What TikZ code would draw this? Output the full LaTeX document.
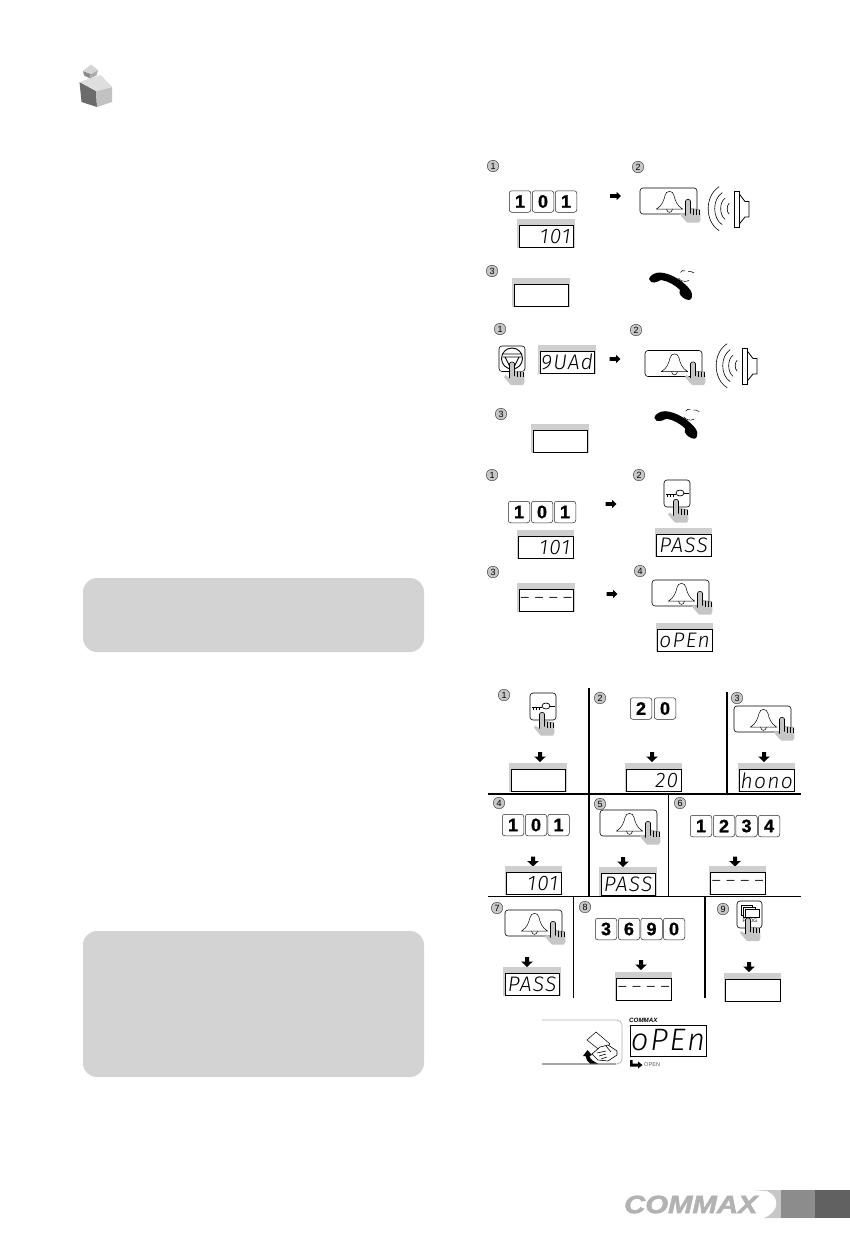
\documentclass[tikz,border=0pt]{standalone}
\usepackage{fontspec}
\setmainfont{Liberation Sans}
\newfontfamily\segfont{Fira Sans Light}
\definecolor{band}{HTML}{CFCFCF}
\definecolor{handgray}{HTML}{C6C6C6}
\definecolor{boxgray}{HTML}{D3D3D3}
\tikzset{
  keycap/.style={draw=black!85,line width=.5pt,rounded corners=2.5pt,minimum width=21.5pt,minimum height=21.5pt,inner sep=0pt,font=\bfseries\fontsize{18}{18}\selectfont\addfontfeature{FakeBold=1}},
  dispbox/.style={draw=black,line width=.8pt,fill=white,minimum width=54.5pt,minimum height=22pt,inner sep=0pt},
  segtext/.style={inner sep=0pt,font=\segfont\itshape\fontsize{21}{21}\selectfont\addfontfeature{LetterSpace=6}},
  numc/.style={circle,draw=black!80,line width=.4pt,fill=black!22,minimum size=11.5pt,inner sep=0pt,font=\fontsize{9}{9}\selectfont},
  iconline/.style={draw=black,line width=.5pt},
  gridthick/.style={draw=black,line width=1.5pt},
  gridthin/.style={draw=black,line width=.9pt},
}
\newcommand\keycap[4]{\node[keycap] (#1) at (#2,#3) {#4};}
\newcommand\fourdash{{\segfont\fontsize{18}{18}\selectfont – – – –}}
\newcommand\dispbg[3]{\fill[band] (#2-1.5,#3-6) rectangle (#2+56,#3+23);
  \node[dispbox,anchor=north west] (#1) at (#2,#3) {};}
\newcommand\dispR[4]{\dispbg{#1}{#2}{#3}\node[segtext,anchor=east] (#1t) at ([xshift=-3pt]#1.east) {#4};}
\newcommand\dispC[4]{\dispbg{#1}{#2}{#3}\node[segtext] (#1t) at (#1.center) {#4};}
\newcommand\rtarrow[2]{\fill[black,shift={(#1,#2)}] (-5.5,-1.8)--(1,-1.8)--(1,-4.2)--(5.5,0)--(1,4.2)--(1,1.8)--(-5.5,1.8)--cycle;}
\newcommand\dnarrow[2]{\fill[black,shift={(#1,#2)}] (-2,-5)--(2,-5)--(2,-.5)--(5.8,-.5)--(0,5)--(-5.8,-.5)--(-2,-.5)--cycle;}
\newcommand\num[4]{\node[numc] (#1) at (#2,#3) {#4};}
\newcommand\handat[2]{\begin{scope}[shift={(#1,#2)}]
  \fill[handgray] (-2.5,2)--(2.5,2)--(2.5,9)--(12,9.5)--(12.5,20)--(11,23)--(-1,23)--(-3,21)--(-8,15)--(-6.5,13)--(-2.5,16)--cycle;
  \draw[iconline,line width=.6pt,fill=handgray] (-2.5,16)--(-2.5,1.8) .. controls (-2.5,-.7) and (2.5,-.7) .. (2.5,1.8)--(2.5,14);
  \draw[iconline,line width=.6pt] (5.5,9.2)--(5.5,15) (8.3,9.6)--(8.3,15) (11,10)--(11,15);
  \draw[black!60,line width=.3pt] (2.5,9)--(11,10);
\end{scope}}
\newcommand\bellbtn[2]{\begin{scope}[shift={(#1,#2)}]
  \draw[iconline,rounded corners=3pt,line width=.6pt] (0,0) rectangle (57,26);
  \draw[iconline,line width=.5pt] (16.5,21) .. controls (22,18) and (24,12) .. (25,7.5) .. controls (26,2) and (33,2) .. (34,7.5) .. controls (35,12) and (37,18) .. (42.5,21) -- cycle;
  \draw[iconline,line width=.5pt] (26.5,21) .. controls (27,25.5) and (32,25.5) .. (32.5,21);
\end{scope}\handat{#1+48}{#2+11.5}}
\newcommand\keybtn[2]{\begin{scope}[shift={(#1,#2)}]
  \draw[iconline,rounded corners=3pt,line width=.6pt] (0,0) rectangle (26,27);
  \draw[iconline,line width=.7pt] (16,13) ellipse (4 and 3);
  \draw[iconline,line width=.9pt] (1.5,14)--(12,14) (3,14)--(3,16.5) (6,14)--(6,16.5) (9,14)--(9,16.5);
  \draw[iconline] (20,13)--(24.5,13);
\end{scope}\handat{#1+12}{#2+19.5}}
\newcommand\spk[2]{\begin{scope}[shift={(#1,#2)}]
  \draw[iconline,line width=.8pt] (0,0) rectangle (5.3,36);
  \draw[iconline,line width=.8pt] (5.3,3)--(11,10.5)--(15,10.5)--(15,26)--(11,26)--(5.3,33);
  \draw[iconline,line width=.6pt] (-14.8,-4.3) .. controls (-29.5,4.7) and (-29.5,30.7) .. (-14.8,39.7);
  \draw[iconline,line width=.6pt] (-11.8,1.7) .. controls (-21.8,8.1) and (-21.8,27.3) .. (-11.8,33.7);
  \draw[iconline,line width=.6pt] (-8.9,7.1) .. controls (-14.8,11.3) and (-14.8,24.1) .. (-8.9,28.3);
  \draw[iconline,line width=.6pt] (-4.8,12.2) .. controls (-7.5,14.4) and (-7.5,21) .. (-4.8,23.2);
\end{scope}}
\newcommand\phone[2]{\begin{scope}[shift={(#1,#2)}]
  \fill[black] (0,6) .. controls (1,2) and (6,-.5) .. (11,-.5) .. controls (22,0) and (36,9) .. (42,18) .. controls (44,22) and (43,27) .. (40,27) .. controls (36,27) and (31,23) .. (30.5,20) .. controls (30.5,18.5) and (31,17.5) .. (31,17) .. controls (26,12) and (19,8) .. (12,7) .. controls (8,9) and (2,12) .. (0,6) -- cycle;
  \draw[black,line width=.5pt] (29.5,5) .. controls (31.5,8) and (35,9.5) .. (40,7.5);
  \draw[black,line width=.5pt] (31.5,-.5) .. controls (32.5,-2.5) and (34,-3) .. (36,-2);
  \draw[black,line width=.5pt] (39,-1.5) .. controls (41,-2) and (43,-1.5) .. (45,0);
\end{scope}}
\begin{document}
\begin{tikzpicture}[x=1pt,y=-1pt]
\useasboundingbox (0,0) rectangle (850,1247);
\fill[white] (0,0) rectangle (850,1247);
% cube
\fill[black!58] (79.5,82)--(96,91)--(97,107)--(81.5,102)--cycle;
\fill[black!24] (96,91)--(112,87)--(112,102)--(97,107)--cycle;
\fill[black!13] (79.5,82)--(101,75)--(112,87)--(96,91)--cycle;
\fill[black!45] (83,71)--(91,74)--(90,78.5)--(84,75.5)--cycle;
\fill[black!32] (91,74)--(98,70)--(96.5,75.5)--(90,78.5)--cycle;
\fill[black!17] (83,71)--(91,64.5)--(98,70)--(91,74)--cycle;
% grey note panels
\fill[boxgray,rounded corners=14pt] (83,578) rectangle (424,652);
\fill[boxgray,rounded corners=14pt] (83,931) rectangle (424,1077);
% block A
\num{a1}{493}{166}{1}\num{a2}{638}{167}{2}
\keycap{ak1}{520}{201.5}{1}\keycap{ak2}{543}{201.5}{0}\keycap{ak3}{566}{201.5}{1}
\dispR{ad1}{518.5}{225}{101}
\rtarrow{615.5}{196}
\bellbtn{640}{188}
\spk{734}{191}
\num{a3}{492}{271}{3}\dispC{ad3}{513.5}{284}{}
\phone{649}{273}
% block B
\num{b1}{500}{329}{1}\num{b2}{636}{330}{2}
\begin{scope}[shift={(499,346)}]
 \draw[iconline,rounded corners=3pt,line width=.6pt] (0,0) rectangle (26,25.5);
 \draw[iconline,line width=.9pt] (13,12.5) circle (10.5);
 \draw[iconline,line width=.9pt] (3,8)--(23,8) (3.5,11)--(22.5,11) (6,11)--(12,23) (20,11)--(14,23);
\end{scope}
\handat{512}{362}
\dispC{bd1}{539.5}{351}{9UAd}
\rtarrow{615}{359}
\bellbtn{645}{350.5}
\spk{742}{348}
\num{b3}{501}{414}{3}\dispC{bd3}{532.5}{430}{}
\phone{654.3}{411.7}
% block C
\num{c1}{492}{475}{1}\num{c2}{639}{475}{2}
\keycap{ck1}{519}{512}{1}\keycap{ck2}{542}{512}{0}\keycap{ck3}{565}{512}{1}
\dispR{cd1}{518}{536}{101}
\rtarrow{611}{504}
\keybtn{664}{480}
\dispC{cd2}{656}{533.5}{PASS}
\num{c3}{493}{572}{3}\num{c4}{640}{571}{4}
\dispC{cd3}{518.5}{589}{\fourdash}
\rtarrow{612}{594}
\bellbtn{652}{580}
\dispC{cd4}{657}{629}{oPEn}
% grid lines
\draw[gridthick] (589,688)--(589,896);
\draw[gridthick] (727,692)--(727,794);
\draw[gridthick] (488,794)--(801,794);
\draw[gridthin] (668,794)--(668,896);
\draw[gridthin] (488,896.5)--(801,896.5);
\draw[gridthin] (573,896)--(573,998);
\draw[gridthick] (705,896)--(705,998);
% row 1
\num{r1}{504}{695}{1}
\keybtn{530}{693}
\dnarrow{540}{757}\dispC{rd1}{510.5}{768.5}{}
\num{r2}{600}{698}{2}
\keycap{rk1}{641}{708.5}{2}\keycap{rk2}{665}{708.5}{0}
\dnarrow{652}{757}\dispR{rd2}{626}{769}{20}
\num{r3}{737}{698}{3}
\bellbtn{734}{706}
\dnarrow{764}{757}\dispC{rd3}{739}{769}{hono}
% row 2
\num{r4}{499}{803}{4}
\keycap{rk3}{513}{825}{1}\keycap{rk4}{536}{825}{0}\keycap{rk5}{558.5}{825}{1}
\dnarrow{533}{861.5}\dispR{rd4}{506}{872}{101}
\num{r5}{600}{804}{5}
\bellbtn{600}{810}
\dnarrow{623}{862}\dispC{rd5}{600.5}{873}{PASS}
\num{r6}{680}{803}{6}
\keycap{rk6}{701}{826}{1}\keycap{rk7}{724}{826}{2}\keycap{rk8}{746.5}{826}{3}\keycap{rk9}{769}{826}{4}
\dnarrow{735}{861.5}\dispC{rd6}{710}{872}{\fourdash}
% row 3
\num{r7}{497}{908}{7}
\bellbtn{505}{910}
\dnarrow{527}{962}\dispC{rd7}{504.5}{973}{PASS}
\num{r8}{585}{907}{8}
\keycap{rk10}{606}{929}{3}\keycap{rk11}{629}{929}{6}\keycap{rk12}{651.5}{929}{9}\keycap{rk13}{674}{929}{0}
\dnarrow{641}{965}\dispC{rd8}{616}{978}{\fourdash}
\num{r9}{723}{909}{9}
\draw[iconline,rounded corners=3pt,line width=.6pt] (737,901) rectangle (762,928);
\draw[iconline,fill=white] (741,905) rectangle (752,915);
\draw[iconline,fill=white] (743,907) rectangle (755,917);
\draw[iconline,fill=white] (745,909.5) rectangle (759,917);
\node[inner sep=0pt,font=\fontsize{5}{5}\selectfont] (prog) at (750,921) {PROG};
\handat{748}{918}
\dnarrow{749}{967}\dispC{rd9}{725}{979}{}
% card reader
\draw[black!30,line width=.7pt,rounded corners=5pt] (542,1020)--(622,1020)--(622,1064)--(542,1064);
\draw[black!35,line width=1.4pt] (542,1064)--(616,1064);
\draw[iconline,fill=white] (587,1040)--(596,1032)--(610,1044)--(602,1052)--cycle;
\draw[iconline,fill=white,line width=.6pt] (598,1060)--(592,1054)--(600,1047)--(608,1045)--(617,1051)--(617,1055)--(608,1061)--cycle;
\draw[iconline,line width=.6pt] (597,1053)--(606,1051) (599,1056)--(606,1054) (601,1059)--(607,1057) (606,1046)--(611,1052);
\fill[black] (598,1063.5)--(590,1063.5) .. controls (587.5,1062) and (586,1059) .. (585.5,1056)--(583,1056)--(587.5,1050)--(592,1055)--(589.5,1056) .. controls (590,1059) and (594,1062) .. (598,1063.5)--cycle;
\node[inner sep=0pt,anchor=west,font=\bfseries\itshape\fontsize{6.2}{6.2}\selectfont] (brand) at (629,1020) {COMMAX};
\node[draw=black,line width=.8pt,minimum width=76pt,minimum height=31pt,anchor=north west,inner sep=0pt] (bigd) at (629.5,1024.5) {};
\node[segtext,font=\segfont\itshape\fontsize{31}{31}\selectfont\addfontfeature{LetterSpace=6}] (bigt) at (bigd.center) {oPEn};
\fill[black] (630,1060)--(632.5,1060)--(632.5,1063.5)--(638,1063.5)--(638,1061.5)--(642.5,1065)--(638,1068.5)--(638,1066.5)--(630,1066.5)--cycle;
\node[inner sep=0pt,anchor=west,text=black!65,font=\fontsize{5.6}{5.6}\selectfont] (opn) at (644,1065) {OPEN};
% footer logo
\fill[black!22] (753,1190)--(781,1190)--(781,1218)--(764,1218) .. controls (780,1212) and (780,1196) .. (767,1191) -- cycle;
\fill[black!45] (781,1189.5) rectangle (815,1218);
\fill[black!62] (815,1190) rectangle (850,1218);
\node[inner sep=0pt,anchor=west,text=black!30,font=\bfseries\itshape\fontsize{25}{25}\selectfont\addfontfeature{FakeBold=2}] (logo) at (624,1204.5) {\scalebox{1.17}[1]{COMMAX}};
\end{tikzpicture}
\end{document}
